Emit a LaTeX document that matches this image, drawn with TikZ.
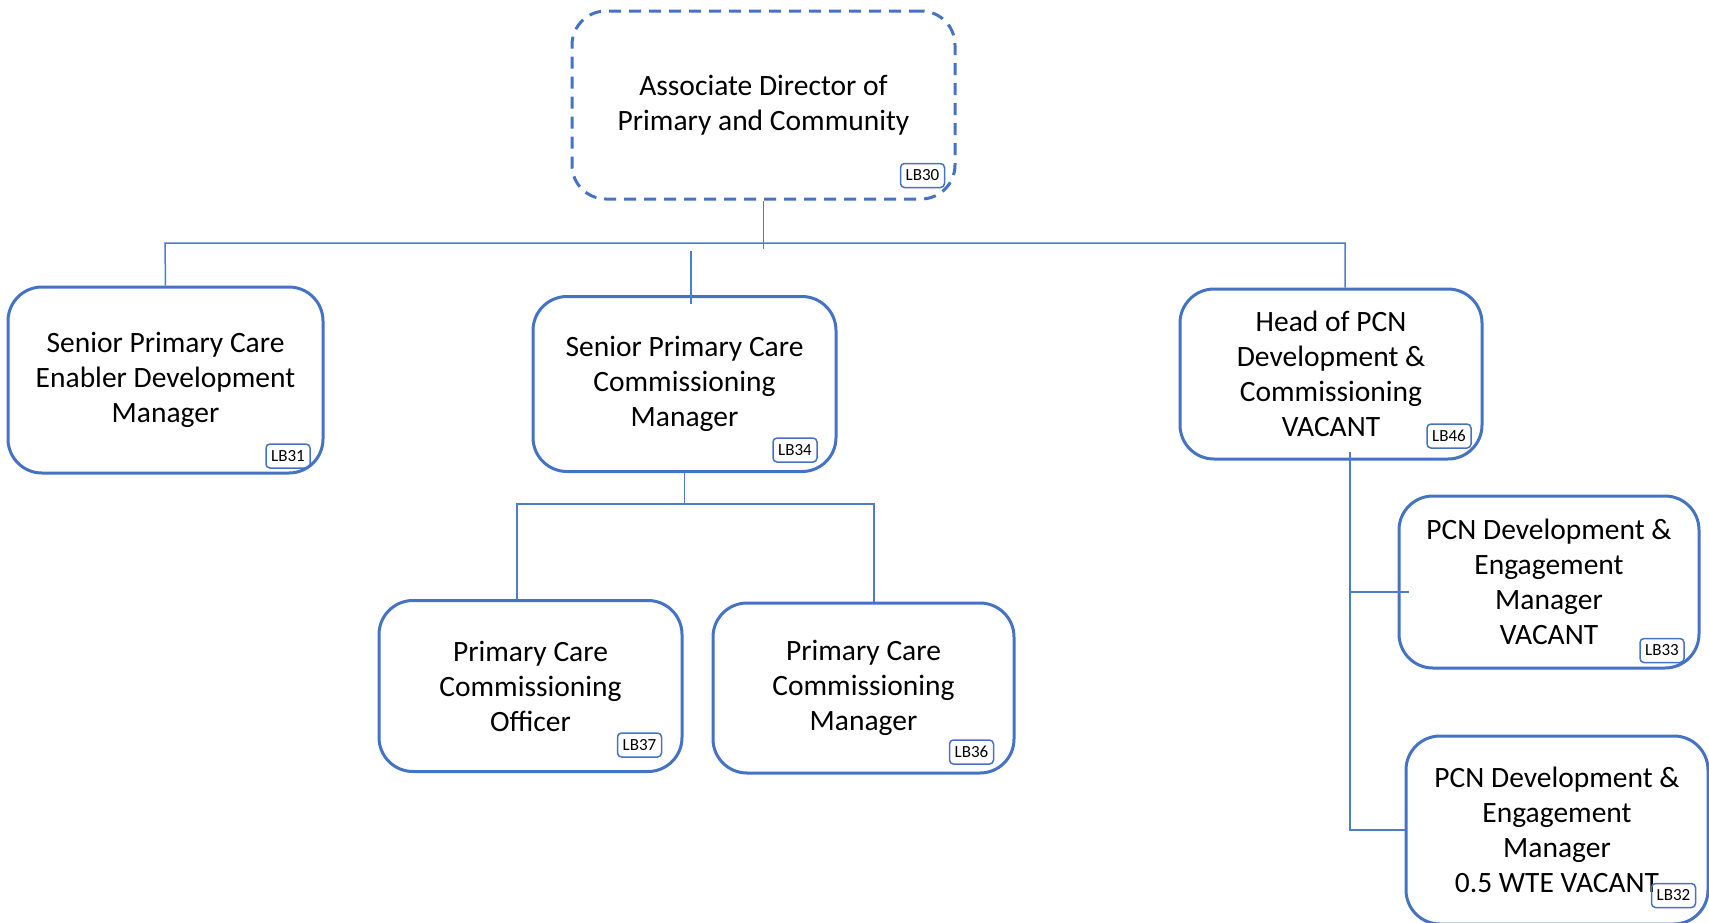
\documentclass[tikz,border=0pt]{standalone}
\usepackage{fontspec}
\setmainfont{Carlito}
\usepackage{tikz}

\definecolor{boxblue}{HTML}{4472C4}
\definecolor{lineblue}{HTML}{4F7BCB}

\tikzset{
  post/.style={draw=boxblue, line width=3pt, rounded corners=34pt, align=center,
    inner sep=0pt, font=\fontsize{29.5}{35}\selectfont},
  tag/.style={draw=boxblue, line width=1.5pt, rounded corners=4pt, inner sep=0pt,
    minimum width=44pt, minimum height=24pt, font=\fontsize{17}{19}\selectfont},
  link/.style={draw=lineblue, line width=1.5pt}
}

\begin{document}
\begin{tikzpicture}[x=1pt,y=-1pt]
\useasboundingbox (0,0) rectangle (1709,922);

% posts
\node[post, dashed, dash pattern=on 12pt off 8pt, minimum width=383pt, minimum height=188pt] (dir) at (763.5,105) {Associate Director of\\Primary and Community};
\node[post, minimum width=315pt, minimum height=186pt] (enabler) at (165.5,380) {Senior Primary Care\\Enabler Development\\Manager};
\node[post, minimum width=303pt, minimum height=175pt] (scm) at (684.5,384) {Senior Primary Care\\Commissioning\\Manager};
\node[post, minimum width=302pt, minimum height=170pt] (head) at (1331,374) {Head of PCN\\Development \&\\Commissioning\\VACANT};
\node[post, minimum width=303pt, minimum height=171pt] (officer) at (530.5,686) {Primary Care\\Commissioning\\Officer};
\node[post, minimum width=301pt, minimum height=170pt] (pccm) at (863.5,688) {Primary Care\\Commissioning\\Manager};
\node[post, minimum width=300pt, minimum height=172pt] (pcn1) at (1549,582) {PCN Development \&\\Engagement\\Manager\\VACANT};
\node[post, minimum width=302pt, minimum height=188pt] (pcn2) at (1557,830) {PCN Development \&\\Engagement\\Manager\\0.5 WTE VACANT};

% post numbers
\node[tag] (lb30) at (922.5,175.5) {LB30};
\node[tag] (lb31) at (288,456) {LB31};
\node[tag] (lb34) at (795,450) {LB34};
\node[tag] (lb46) at (1449,436) {LB46};
\node[tag] (lb37) at (639.5,745) {LB37};
\node[tag] (lb36) at (971.5,752) {LB36};
\node[tag] (lb33) at (1662,650.5) {LB33};
\node[tag] (lb32) at (1673.5,895.5) {LB32};

% lines
\coordinate (busL) at (165,243);
\coordinate (busR) at (1345,243);
\coordinate (stub) at (691,251);
\coordinate (subL) at (517,504);
\coordinate (subR) at (874,504);
\coordinate (spine) at (1350,452);

\draw[link] (dir.south) -- ++(0,48);
\draw[link] (enabler.north) -- (busL) -- (busR) -- (busR |- head.north);
\draw[link] (stub) -- ([yshift=-9pt]stub |- scm.north);
\draw[link] (scm.south) -- (scm.south |- subL);
\draw[link] (officer.north -| subL) -- (subL) -- (subR) -- (subR |- pccm.north);
\draw[link] (spine) |- (pcn2.west);
\draw[link] ([yshift=-10pt]spine |- pcn1.west) -- ([shift={(11pt,-10pt)}]pcn1.west);
\end{tikzpicture}
\end{document}
